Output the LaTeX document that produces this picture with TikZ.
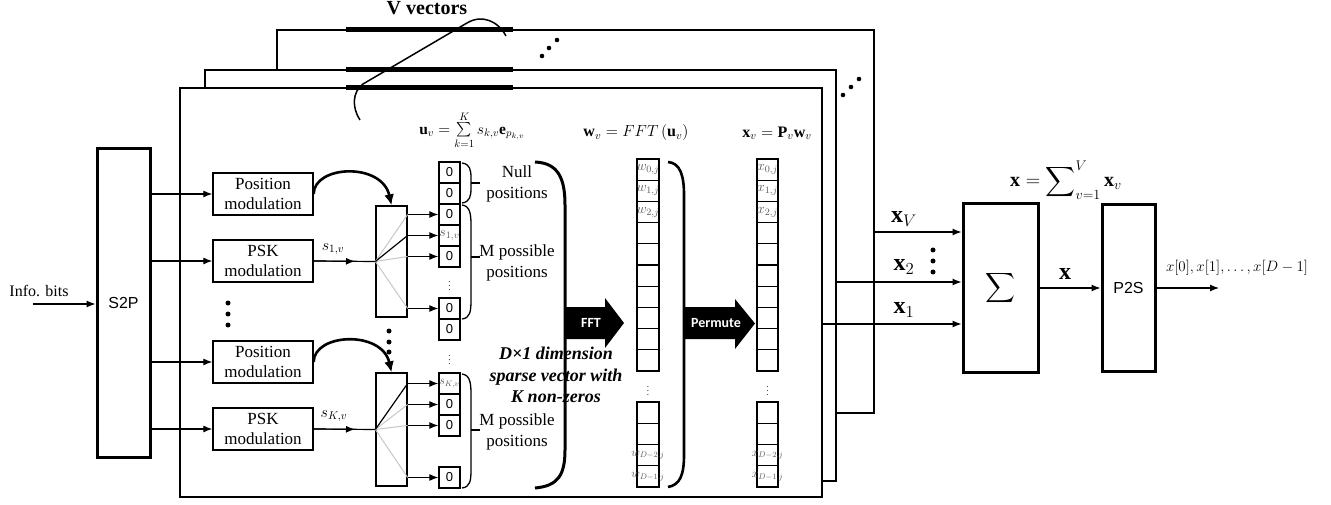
\documentclass[tikz,border=0pt]{standalone}
\usepackage{fix-cm}
\usepackage{exscale}
\usepackage{fontspec}
\setmainfont{Liberation Serif}
\setsansfont{Liberation Sans}
\newfontfamily\calib{Carlito}
\usetikzlibrary{arrows.meta,calc}
\begin{document}
\begin{tikzpicture}[x=1pt,y=-1pt,
  fr/.style={draw,line width=2.6,fill=white,inner sep=0},
  big/.style={draw,line width=3,inner sep=0},
  blk/.style={draw,line width=1.3,inner sep=0,minimum width=100,minimum height=42,align=center,font=\fontsize{17}{20}\selectfont},
  swbox/.style={draw,line width=1.3,inner sep=0,minimum width=31},
  cell/.style={draw,line width=1.3,inner sep=0,minimum height=21,font=\sffamily\fontsize{13}{13}\selectfont},
  clab/.style={text=black!65,inner sep=0,font=\fontsize{14}{14}\selectfont},
  clabs/.style={text=black!65,inner sep=0,font=\fontsize{12}{12}\selectfont},
  vd/.style={inner sep=0,font=\fontsize{9}{9}\selectfont},
  arr/.style={line width=1.2,-{Latex[length=9pt,width=7pt]}},
  carr/.style={line width=2.6,-{Latex[length=11pt,width=10pt]}},
  lab/.style={font=\fontsize{16}{16}\selectfont},
  txt/.style={align=center,font=\fontsize{17}{21}\selectfont},
  wt/.style={text=white,font=\calib\bfseries\fontsize{14}{14}\selectfont}
]
\useasboundingbox (0,0) rectangle (1331,505);

% ---------- stacked frames ----------
\node[fr,minimum width=597,minimum height=383] (f3) at (575.5,221.5) {};
\draw[line width=5] (346,30) -- (513,30);
\node[fr,minimum width=631,minimum height=411] (f2) at (520.5,275.5) {};
\draw[line width=5] (346,70) -- (513,70);
\node[fr,minimum width=642,minimum height=409] (f1) at (501,292.5) {};
\draw[line width=5] (346,88) -- (513,88);

% V vectors
\node[font=\bfseries\fontsize{20}{20}\selectfont] (vv) at (427,8) {V vectors};
\draw[line width=1.5] (360,120) .. controls (352,108) and (352,92) .. (363,84) -- (467,23) .. controls (482,14) and (498,21) .. (506,36);
\foreach \p in {(542,56),(549,48),(557,40),(843,95),(851,87),(859,79)} \fill \p circle (2.3);

% ---------- S2P ----------
\node[big,minimum width=53,minimum height=308,font=\sffamily\fontsize{16}{16}\selectfont] (s2p) at (123.5,303) {S2P};
\node[font=\fontsize{16}{16}\selectfont] (info) at (39,291) {Info. bits};
\coordinate (in) at (33,304);
\draw[arr] (in) -- (in -| s2p.west);

% ---------- modulation blocks ----------
\node[blk] (pos1) at (263,194) {Position\\modulation};
\node[blk] (psk1) at (263,261) {PSK\\modulation};
\node[blk] (pos2) at (263,362) {Position\\modulation};
\node[blk] (psk2) at (263,429) {PSK\\modulation};
\foreach \b in {pos1,psk1,pos2,psk2} \draw[arr] (s2p.east |- \b) -- (\b.west);
\foreach \yy in {303,314,325} \fill (228,\yy) circle (2.5);

% switches
\node[swbox,minimum height=111] (sw1) at (391.5,261.5) {};
\node[swbox,minimum height=113] (sw2) at (391.5,429.5) {};
\foreach \yy in {331,342,352} \fill (389,\yy) circle (2.5);

\draw[carr] (pos1.east) .. controls (314,165) and (382,162) .. (sw1.north);
\draw[carr] (pos2.east) .. controls (314,333) and (382,330) .. (sw2.north);

\draw[line width=1.2] (psk1.east) -- (sw1.west);
\draw[arr] (psk1.east) -- ($(psk1.east)!0.67!(sw1.west)$);
\node[lab] (s1) at (333,249) {$s_{1,v}$};
\draw[line width=1.2] (psk2.east) -- (sw2.west);
\draw[arr] (psk2.east) -- ($(psk2.east)!0.67!(sw2.west)$);
\node[lab] (sK) at (334,416) {$s_{K,v}$};

% ---------- u vector ----------
\foreach \n/\yy/\t in {1/172.5/0,2/193.5/0,3/214.5/0,4/235.5/{},5/256.5/0,6/308.5/0,7/329.5/0,8/383.5/{},9/404.5/0,10/425.5/0,11/477.5/0}
  \node[cell,minimum width=21] (u\n) at (449.5,\yy) {\t};
\node[clab] at (u4) {$s_{1,v}$};
\node[clabs] at (u8) {$s_{K,v}$};
\node[vd] (ud1) at (449.5,283) {$\vdots$};
\node[vd] (ud2) at (449.5,357) {$\vdots$};

% switch internals and outputs
\foreach \c in {u3,u5,u6} \draw[black!22,line width=1] (sw1.west) -- (sw1.east |- \c);
\draw[line width=1.2] (sw1.west) -- (sw1.east |- u4);
\foreach \c in {u3,u4,u5,u6} \draw[arr] (sw1.east |- \c) -- (\c.west);
\foreach \c in {u9,u10,u11} \draw[black!22,line width=1] (sw2.west) -- (sw2.east |- \c);
\draw[line width=1.2] (sw2.west) -- (sw2.east |- u8);
\foreach \c in {u8,u9,u10,u11} \draw[arr] (sw2.east |- \c) -- (\c.west);

% braces
\draw[line width=1.3] (462,163) .. controls (470,164) and (471,170) .. (471,178) -- (471,188) .. controls (471,196) and (470,202) .. (462,203);
\draw[line width=1.3] (471,183) -- (480,183);
\node[txt] (nullp) at (517,184) {Null\\positions};
\draw[line width=1.3] (462,205) .. controls (470,206) and (471,214) .. (471,225) -- (471,300) .. controls (471,312) and (470,318) .. (462,319);
\draw[line width=1.3] (471,257) -- (480,257);
\node[txt] (mp1) at (517,263) {M possible\\positions};
\draw[line width=1.3] (462,374) .. controls (470,375) and (471,383) .. (471,394) -- (471,470) .. controls (471,481) and (470,487) .. (462,488);
\draw[line width=1.3] (471,430) -- (480,430);
\node[txt] (mp2) at (517,432) {M possible\\positions};

% big brackets
\draw[line width=3] (535,162) .. controls (558,163) and (565,178) .. (565,205) -- (565,450) .. controls (565,475) and (558,486) .. (535,488);
\draw[line width=2.6] (668,162) .. controls (680,163) and (684,175) .. (684,195) -- (684,455) .. controls (684,475) and (680,485) .. (668,487);

% ---------- w and x vectors ----------
\foreach \i in {0,...,9} {
  \node[cell,minimum width=22,minimum height=21.2] (w\i) at (648,169.6+21.2*\i) {};
  \node[cell,minimum width=21,minimum height=21.2] (x\i) at (767.5,169.6+21.2*\i) {};
}
\foreach \i/\yy in {10/412.6,11/433.9,12/455.1,13/476.4} {
  \node[cell,minimum width=22,minimum height=21.25] (w\i) at (648,\yy) {};
  \node[cell,minimum width=21,minimum height=21.25] (x\i) at (767.5,\yy) {};
}
\node[clab] at (w0) {$w_{0,j}$};
\node[clab] at (w1) {$w_{1,j}$};
\node[clab] at (w2) {$w_{2,j}$};
\node[clabs] at (w12) {$w_{D{-}2,j}$};
\node[clabs] at (w13) {$w_{D{-}1,j}$};
\node[clab] at (x0) {$x_{0,j}$};
\node[clab] at (x1) {$x_{1,j}$};
\node[clab] at (x2) {$x_{2,j}$};
\node[clabs] at (x12) {$x_{D{-}2,j}$};
\node[clabs] at (x13) {$x_{D{-}1,j}$};
\node[vd] (wd) at (648,388) {$\vdots$};
\node[vd] (xd) at (767.5,388) {$\vdots$};

% block arrows
\fill (565,307) -- (605,307) -- (605,298) -- (624,323) -- (605,348) -- (605,339) -- (565,339) -- cycle;
\node[wt] (fftl) at (591,323) {FFT};
\fill (684,307) -- (735,307) -- (735,299) -- (755,323.5) -- (735,349) -- (735,339) -- (684,339) -- cycle;
\node[wt] (perm) at (716,323.5) {Permute};

\node[align=center,font=\bfseries\itshape\fontsize{18}{21.5}\selectfont] (dtext) at (556,375) {D×1 dimension\\sparse vector with\\K non-zeros};

% formulas
\node[font=\fontsize{15.5}{15.5}\selectfont,inner sep=0] (fu) at (472,130) {$\mathbf{u}_v=\sum\limits_{k=1}^{K}s_{k,v}\mathbf{e}_{p_{k,v}}$};
\node[font=\fontsize{16}{16}\selectfont] (fw) at (636,133) {$\mathbf{w}_v=FFT\left(\mathbf{u}_v\right)$};
\node[font=\fontsize{16}{16}\selectfont] (fx) at (777,133) {$\mathbf{x}_v=\mathbf{P}_v\mathbf{w}_v$};

% ---------- summation and P2S ----------
\node[big,minimum width=75,minimum height=168] (sig) at (1000.5,288) {\fontsize{20}{20}\selectfont$\displaystyle\sum$};
\node[big,minimum width=53,minimum height=167,font=\sffamily\fontsize{16}{16}\selectfont] (p2s) at (1128.5,288) {P2S};
\coordinate (yV) at (900,232);
\coordinate (y2) at (900,282);
\coordinate (y1) at (900,324);
\draw[arr] (f3.east |- yV) -- (sig.west |- yV);
\draw[arr] (f2.east |- y2) -- (sig.west |- y2);
\draw[arr] (f1.east |- y1) -- (sig.west |- y1);
\node[font=\fontsize{24}{24}\selectfont] (lxV) at (904,219) {$\mathbf{x}_V$};
\node[font=\fontsize{24}{24}\selectfont] (lx2) at (904,267) {$\mathbf{x}_2$};
\node[font=\fontsize{24}{24}\selectfont] (lx1) at (904,310) {$\mathbf{x}_1$};
\foreach \yy in {250,261,272} \fill (933,\yy) circle (2.5);
\node[font=\fontsize{20}{20}\selectfont] (fsum) at (1066,180) {$\mathbf{x}=\displaystyle\sum\nolimits_{v=1}^{V}\mathbf{x}_v$};
\draw[arr] (sig.east) -- (p2s.west);
\node[font=\fontsize{24}{24}\selectfont] (lX) at (1065,274) {$\mathbf{x}$};
\coordinate (outend) at (1219,288);
\draw[arr] (p2s.east) -- (outend);
\node[font=\fontsize{15}{15}\selectfont] (outl) at (1237,268) {$x[0],x[1],\ldots,x[D-1]$};
\end{tikzpicture}
\end{document}
